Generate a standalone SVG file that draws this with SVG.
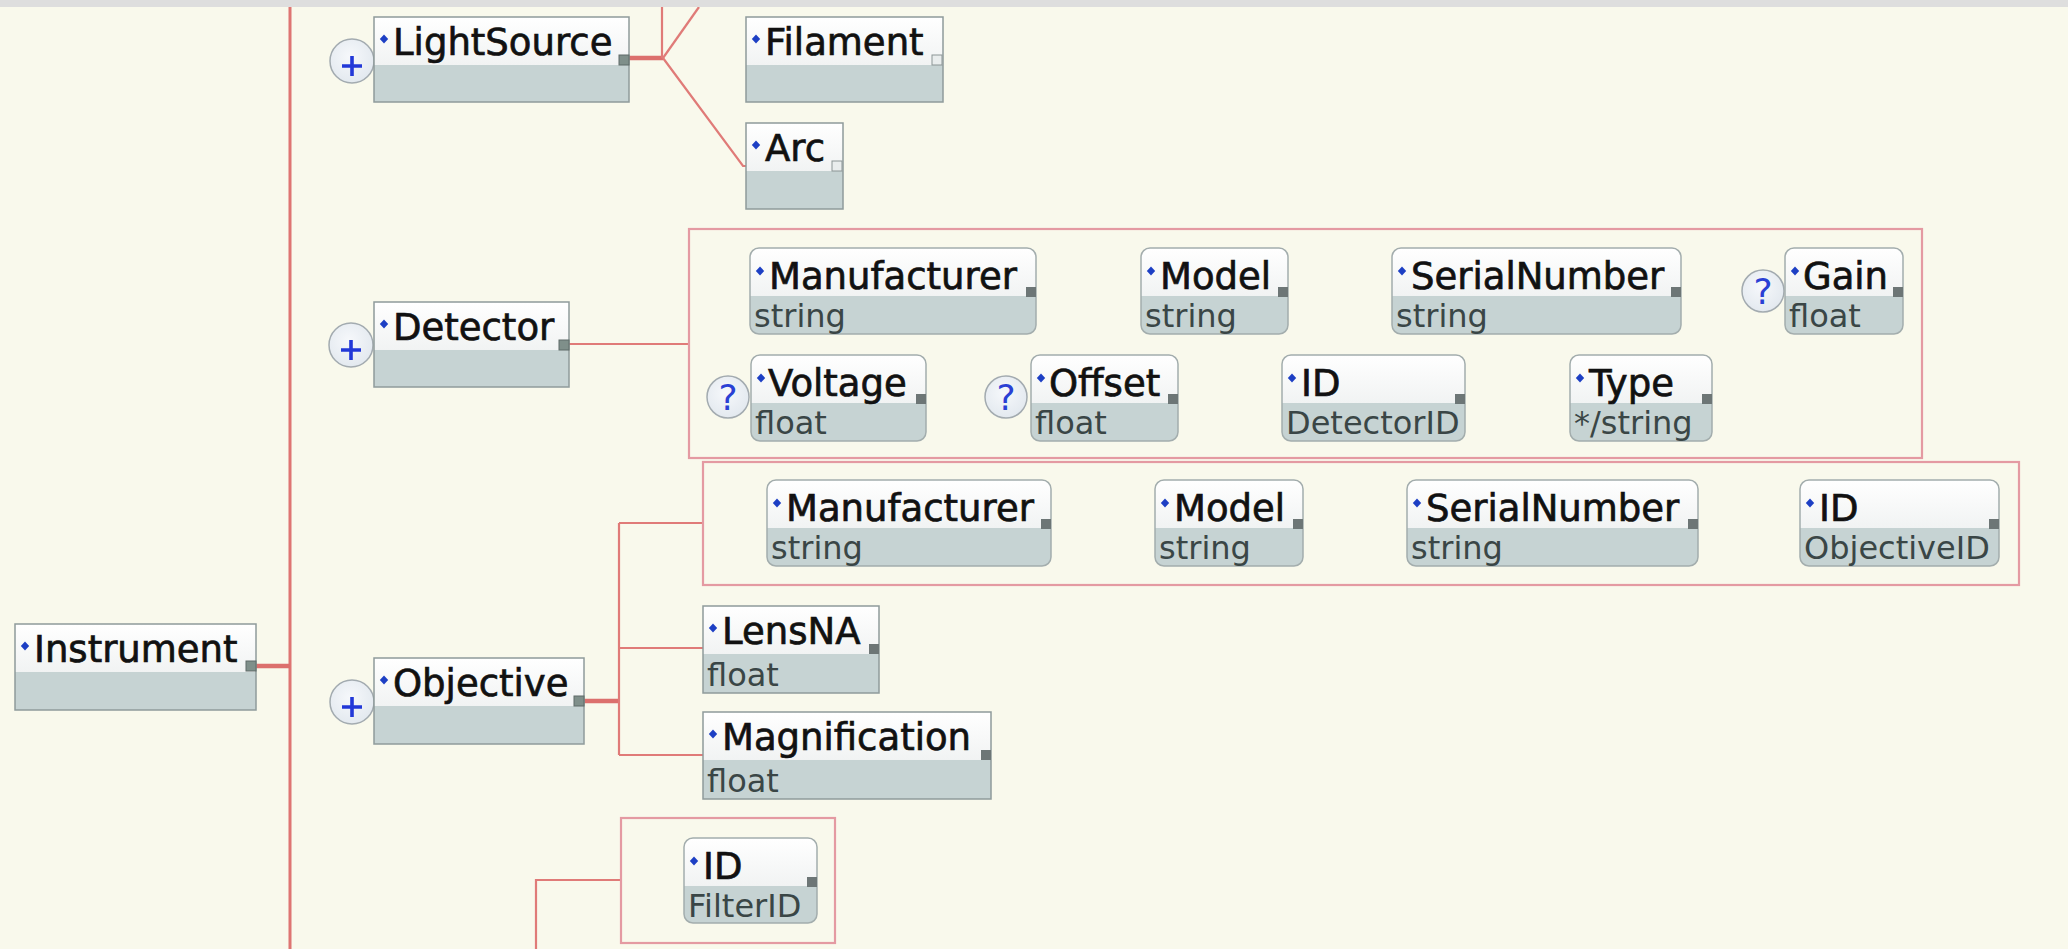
<svg xmlns="http://www.w3.org/2000/svg" width="2068" height="949" viewBox="0 0 2068 949">
<style>
.body{fill:#c6d3d3}
.hdr{fill:url(#hg)}
.out{fill:none;stroke:#8f9b9b;stroke-width:1.5}
.out2{fill:none;stroke:#a3adad;stroke-width:1.5}
.nm{font-family:"DejaVu Sans",sans-serif;font-size:37px;fill:#111;stroke:#111;stroke-width:0.7}
.ty{font-family:"DejaVu Sans",sans-serif;font-size:32px;fill:#3a4646}
.bul{fill:#1d3fc4}
.ico{fill:#6d7676}
.icoe{fill:#7f8f8a;stroke:#5f6b68;stroke-width:1}
.icol{fill:#e9eded;stroke:#8b9595;stroke-width:1}
.grp{fill:none;stroke:#e49aa2;stroke-width:2.2}
.ln{fill:none;stroke:#e07b78;stroke-width:2.2}
.lnm{fill:none;stroke:#de7572;stroke-width:3}
.lnt{fill:none;stroke:#dc706d;stroke-width:4.5}
.cir{fill:url(#cg);stroke:#a3abb0;stroke-width:1.5}
.plus{stroke:#2238d8;stroke-width:3.6;fill:none}
.q{font-family:"DejaVu Sans",sans-serif;font-size:36px;fill:#2a40d4;text-anchor:middle}
</style>
<defs>
<linearGradient id="hg" x1="0" y1="0" x2="0" y2="1">
<stop offset="0" stop-color="#ffffff"/>
<stop offset="1" stop-color="#f1f3f3"/>
</linearGradient>
<radialGradient id="cg" cx="0.45" cy="0.4" r="0.6">
<stop offset="0" stop-color="#f6f8fb"/>
<stop offset="1" stop-color="#e3e9ef"/>
</radialGradient>
<path id="dia" d="M0,-4.5 L4.2,0 L0,4.5 L-4.2,0Z"/>
</defs>
<rect x="0" y="0" width="2068" height="949" fill="#f9f9ec"/>

<g id="connectors">
<path class="lnm" d="M290,7 V949"/>
<path class="lnt" d="M256,666 H290"/>
<path class="lnt" d="M628,58 H663"/>
<path class="ln" d="M662,7 V58"/>
<path class="ln" d="M663,58 L699,7"/>
<path class="ln" d="M663,58 L743,166 H746"/>
<path class="ln" d="M569,344 H689"/>
<path class="lnt" d="M584,701 H619"/>
<path class="ln" d="M619,523 V755"/>
<path class="ln" d="M619,523 H703"/>
<path class="ln" d="M619,648 H703"/>
<path class="ln" d="M619,755 H703"/>
<path class="ln" d="M621,880 H536 V949"/>
</g>

<rect x="0" y="0" width="2068" height="7" fill="#dedede"/>

<g id="group-detector-attrs"><rect class="grp" x="689" y="229" width="1233" height="229"/></g>
<g id="group-objective-attrs"><rect class="grp" x="703" y="462" width="1316" height="123"/></g>
<g id="group-filter-attrs"><rect class="grp" x="621" y="818" width="214" height="125"/></g>

<g id="instrument">
<rect class="body" x="15" y="624" width="241" height="86"/>
<rect class="hdr" x="15" y="624" width="241" height="48"/>
<rect class="out" x="15" y="624" width="241" height="86"/>
<use href="#dia" class="bul" x="25" y="646"/>
<text class="nm" x="34" y="662">Instrument</text>
<rect class="icoe" x="246" y="661" width="10" height="10"/>
</g>

<g id="lightsource">
<circle class="cir" cx="352" cy="61" r="22"/>
<path class="plus" d="M342,66 H362 M352,56 V76"/>
<rect class="body" x="374" y="17" width="255" height="85"/>
<rect class="hdr" x="374" y="17" width="255" height="48"/>
<rect class="out" x="374" y="17" width="255" height="85"/>
<use href="#dia" class="bul" x="384" y="39"/>
<text class="nm" x="393" y="55">LightSource</text>
<rect class="icoe" x="619" y="55" width="10" height="10"/>
</g>

<g id="filament">
<rect class="body" x="746" y="17" width="197" height="85"/>
<rect class="hdr" x="746" y="17" width="197" height="48"/>
<rect class="out" x="746" y="17" width="197" height="85"/>
<use href="#dia" class="bul" x="756" y="39"/>
<text class="nm" x="765" y="55">Filament</text>
<rect class="icol" x="932" y="55" width="10" height="10"/>
</g>

<g id="arc">
<rect class="body" x="746" y="123" width="97" height="86"/>
<rect class="hdr" x="746" y="123" width="97" height="48"/>
<rect class="out" x="746" y="123" width="97" height="86"/>
<use href="#dia" class="bul" x="756" y="145"/>
<text class="nm" x="765" y="161">Arc</text>
<rect class="icol" x="832" y="161" width="10" height="10"/>
</g>

<g id="detector">
<circle class="cir" cx="351" cy="345" r="22"/>
<path class="plus" d="M341,350 H361 M351,340 V360"/>
<rect class="body" x="374" y="302" width="195" height="85"/>
<rect class="hdr" x="374" y="302" width="195" height="48"/>
<rect class="out" x="374" y="302" width="195" height="85"/>
<use href="#dia" class="bul" x="384" y="324"/>
<text class="nm" x="393" y="340">Detector</text>
<rect class="icoe" x="559" y="340" width="10" height="10"/>
</g>

<g id="objective">
<circle class="cir" cx="352" cy="702" r="22"/>
<path class="plus" d="M342,707 H362 M352,697 V717"/>
<rect class="body" x="374" y="658" width="210" height="86"/>
<rect class="hdr" x="374" y="658" width="210" height="48"/>
<rect class="out" x="374" y="658" width="210" height="86"/>
<use href="#dia" class="bul" x="384" y="680"/>
<text class="nm" x="393" y="696">Objective</text>
<rect class="icoe" x="574" y="696" width="10" height="10"/>
</g>

<g id="lensna">
<rect class="body" x="703" y="606" width="176" height="87"/>
<rect class="hdr" x="703" y="606" width="176" height="48"/>
<rect class="out" x="703" y="606" width="176" height="87"/>
<use href="#dia" class="bul" x="713" y="628"/>
<text class="nm" x="722" y="644">LensNA</text>
<text class="ty" x="707" y="686">float</text>
<rect class="ico" x="869" y="644" width="10" height="10"/>
</g>

<g id="magnification">
<rect class="body" x="703" y="712" width="288" height="87"/>
<rect class="hdr" x="703" y="712" width="288" height="48"/>
<rect class="out" x="703" y="712" width="288" height="87"/>
<use href="#dia" class="bul" x="713" y="734"/>
<text class="nm" x="722" y="750">Magnification</text>
<text class="ty" x="707" y="792">float</text>
<rect class="ico" x="981" y="750" width="10" height="10"/>
</g>

<g id="detector-manufacturer">
<rect class="body" x="750" y="248" width="286" height="86" rx="9"/>
<path class="hdr" d="M750,296 V257 Q750,248 759,248 H1027 Q1036,248 1036,257 V296 Z"/>
<rect class="out2" x="750" y="248" width="286" height="86" rx="9"/>
<use href="#dia" class="bul" x="760" y="271"/>
<text class="nm" x="769" y="289">Manufacturer</text>
<text class="ty" x="754" y="327">string</text>
<rect class="ico" x="1026" y="287" width="10" height="10"/>
</g>

<g id="detector-model">
<rect class="body" x="1141" y="248" width="147" height="86" rx="9"/>
<path class="hdr" d="M1141,296 V257 Q1141,248 1150,248 H1279 Q1288,248 1288,257 V296 Z"/>
<rect class="out2" x="1141" y="248" width="147" height="86" rx="9"/>
<use href="#dia" class="bul" x="1151" y="271"/>
<text class="nm" x="1160" y="289">Model</text>
<text class="ty" x="1145" y="327">string</text>
<rect class="ico" x="1278" y="287" width="10" height="10"/>
</g>

<g id="detector-serialnumber">
<rect class="body" x="1392" y="248" width="289" height="86" rx="9"/>
<path class="hdr" d="M1392,296 V257 Q1392,248 1401,248 H1672 Q1681,248 1681,257 V296 Z"/>
<rect class="out2" x="1392" y="248" width="289" height="86" rx="9"/>
<use href="#dia" class="bul" x="1402" y="271"/>
<text class="nm" x="1411" y="289">SerialNumber</text>
<text class="ty" x="1396" y="327">string</text>
<rect class="ico" x="1671" y="287" width="10" height="10"/>
</g>

<g id="detector-gain">
<circle class="cir" cx="1763" cy="291" r="21"/>
<text class="q" x="1763" y="304">?</text>
<rect class="body" x="1785" y="248" width="118" height="86" rx="9"/>
<path class="hdr" d="M1785,296 V257 Q1785,248 1794,248 H1894 Q1903,248 1903,257 V296 Z"/>
<rect class="out2" x="1785" y="248" width="118" height="86" rx="9"/>
<use href="#dia" class="bul" x="1795" y="271"/>
<text class="nm" x="1803" y="289">Gain</text>
<text class="ty" x="1789" y="327">float</text>
<rect class="ico" x="1893" y="287" width="10" height="10"/>
</g>

<g id="detector-voltage">
<circle class="cir" cx="728" cy="397" r="21"/>
<text class="q" x="728" y="410">?</text>
<rect class="body" x="751" y="355" width="175" height="86" rx="9"/>
<path class="hdr" d="M751,403 V364 Q751,355 760,355 H917 Q926,355 926,364 V403 Z"/>
<rect class="out2" x="751" y="355" width="175" height="86" rx="9"/>
<use href="#dia" class="bul" x="761" y="378"/>
<text class="nm" x="768" y="396">Voltage</text>
<text class="ty" x="755" y="434">float</text>
<rect class="ico" x="916" y="394" width="10" height="10"/>
</g>

<g id="detector-offset">
<circle class="cir" cx="1006" cy="397" r="21"/>
<text class="q" x="1006" y="410">?</text>
<rect class="body" x="1031" y="355" width="147" height="86" rx="9"/>
<path class="hdr" d="M1031,403 V364 Q1031,355 1040,355 H1169 Q1178,355 1178,364 V403 Z"/>
<rect class="out2" x="1031" y="355" width="147" height="86" rx="9"/>
<use href="#dia" class="bul" x="1041" y="378"/>
<text class="nm" x="1049" y="396">Offset</text>
<text class="ty" x="1035" y="434">float</text>
<rect class="ico" x="1168" y="394" width="10" height="10"/>
</g>

<g id="detector-id">
<rect class="body" x="1282" y="355" width="183" height="86" rx="9"/>
<path class="hdr" d="M1282,403 V364 Q1282,355 1291,355 H1456 Q1465,355 1465,364 V403 Z"/>
<rect class="out2" x="1282" y="355" width="183" height="86" rx="9"/>
<use href="#dia" class="bul" x="1292" y="378"/>
<text class="nm" x="1301" y="396">ID</text>
<text class="ty" x="1286" y="434">DetectorID</text>
<rect class="ico" x="1455" y="394" width="10" height="10"/>
</g>

<g id="detector-type">
<rect class="body" x="1570" y="355" width="142" height="86" rx="9"/>
<path class="hdr" d="M1570,403 V364 Q1570,355 1579,355 H1703 Q1712,355 1712,364 V403 Z"/>
<rect class="out2" x="1570" y="355" width="142" height="86" rx="9"/>
<use href="#dia" class="bul" x="1580" y="378"/>
<text class="nm" x="1589" y="396">Type</text>
<text class="ty" x="1574" y="434">*/string</text>
<rect class="ico" x="1702" y="394" width="10" height="10"/>
</g>

<g id="objective-manufacturer">
<rect class="body" x="767" y="480" width="284" height="86" rx="9"/>
<path class="hdr" d="M767,528 V489 Q767,480 776,480 H1042 Q1051,480 1051,489 V528 Z"/>
<rect class="out2" x="767" y="480" width="284" height="86" rx="9"/>
<use href="#dia" class="bul" x="777" y="503"/>
<text class="nm" x="786" y="521">Manufacturer</text>
<text class="ty" x="771" y="559">string</text>
<rect class="ico" x="1041" y="519" width="10" height="10"/>
</g>

<g id="objective-model">
<rect class="body" x="1155" y="480" width="148" height="86" rx="9"/>
<path class="hdr" d="M1155,528 V489 Q1155,480 1164,480 H1294 Q1303,480 1303,489 V528 Z"/>
<rect class="out2" x="1155" y="480" width="148" height="86" rx="9"/>
<use href="#dia" class="bul" x="1165" y="503"/>
<text class="nm" x="1174" y="521">Model</text>
<text class="ty" x="1159" y="559">string</text>
<rect class="ico" x="1293" y="519" width="10" height="10"/>
</g>

<g id="objective-serialnumber">
<rect class="body" x="1407" y="480" width="291" height="86" rx="9"/>
<path class="hdr" d="M1407,528 V489 Q1407,480 1416,480 H1689 Q1698,480 1698,489 V528 Z"/>
<rect class="out2" x="1407" y="480" width="291" height="86" rx="9"/>
<use href="#dia" class="bul" x="1417" y="503"/>
<text class="nm" x="1426" y="521">SerialNumber</text>
<text class="ty" x="1411" y="559">string</text>
<rect class="ico" x="1688" y="519" width="10" height="10"/>
</g>

<g id="objective-id">
<rect class="body" x="1800" y="480" width="199" height="86" rx="9"/>
<path class="hdr" d="M1800,528 V489 Q1800,480 1809,480 H1990 Q1999,480 1999,489 V528 Z"/>
<rect class="out2" x="1800" y="480" width="199" height="86" rx="9"/>
<use href="#dia" class="bul" x="1810" y="503"/>
<text class="nm" x="1819" y="521">ID</text>
<text class="ty" x="1804" y="559">ObjectiveID</text>
<rect class="ico" x="1989" y="519" width="10" height="10"/>
</g>

<g id="filter-id">
<rect class="body" x="684" y="838" width="133" height="85" rx="9"/>
<path class="hdr" d="M684,886 V847 Q684,838 693,838 H808 Q817,838 817,847 V886 Z"/>
<rect class="out2" x="684" y="838" width="133" height="85" rx="9"/>
<use href="#dia" class="bul" x="694" y="861"/>
<text class="nm" x="703" y="879">ID</text>
<text class="ty" x="688" y="917">FilterID</text>
<rect class="ico" x="807" y="877" width="10" height="10"/>
</g>
</svg>
